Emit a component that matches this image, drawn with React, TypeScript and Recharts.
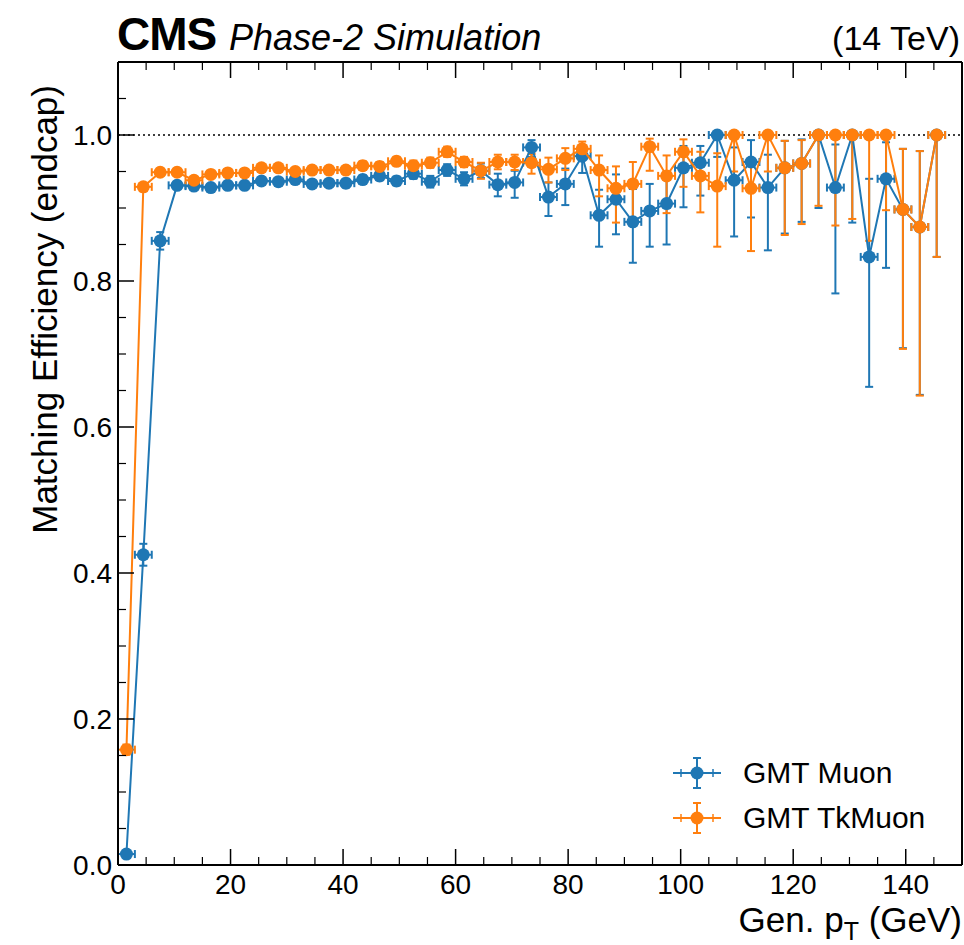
import React from 'react';
import { ComposedChart, Scatter, XAxis, YAxis, ErrorBar, ReferenceLine, Legend } from 'recharts';

// bin centres (GeV), 3 GeV wide bins
const ptBins = [
  1.5, 4.5, 7.5, 10.5, 13.5, 16.5, 19.5, 22.5, 25.5, 28.5, 31.5, 34.5, 37.5, 40.5, 43.5, 46.5, 49.5,
  52.5, 55.5, 58.5, 61.5, 64.5, 67.5, 70.5, 73.5, 76.5, 79.5, 82.5, 85.5, 88.5, 91.5, 94.5, 97.5,
  100.5, 103.5, 106.5, 109.5, 112.5, 115.5, 118.5, 121.5, 124.5, 127.5, 130.5, 133.5, 136.5, 139.5,
  142.5, 145.5,
];
const binHalfWidth = 1.5;

const muonEff = [
  0.015, 0.425, 0.855, 0.931, 0.930, 0.928, 0.931, 0.931, 0.937, 0.936, 0.939, 0.933, 0.934, 0.934, 0.939, 0.944, 0.937,
  0.947, 0.936, 0.952, 0.940, 0.951, 0.932, 0.935, 0.983, 0.915, 0.933, 0.971, 0.890, 0.912, 0.881, 0.896, 0.906,
  0.955, 0.962, 1.0, 0.938, 0.963, 0.928, 0.955, 0.961, 1.0, 0.928, 1.0, 0.833, 0.940, 0.898,
  0.874, 1.0,
];
const muonErrLo = [
  0.004, 0.015, 0.012, 0.005, 0.005, 0.005, 0.005, 0.005, 0.005, 0.005, 0.005, 0.005, 0.005, 0.006, 0.006, 0.006, 0.006,
  0.007, 0.008, 0.008, 0.009, 0.010, 0.016, 0.021, 0.013, 0.026, 0.029, 0.023, 0.043, 0.048, 0.056, 0.049, 0.056,
  0.054, 0.045, 0.030, 0.077, 0.076, 0.086, 0.090, 0.080, 0.100, 0.145, 0.120, 0.178, 0.122, 0.190,
  0.230, 0.167,
];
const muonErrHi = [
  0.005, 0.015, 0.012, 0.005, 0.005, 0.005, 0.005, 0.005, 0.005, 0.005, 0.005, 0.005, 0.005, 0.006, 0.006, 0.006, 0.006,
  0.007, 0.008, 0.008, 0.009, 0.010, 0.015, 0.016, 0.010, 0.020, 0.021, 0.015, 0.035, 0.034, 0.045, 0.037, 0.040,
  0.030, 0.023, 0.0, 0.045, 0.030, 0.045, 0.037, 0.033, 0.0, 0.059, 0.0, 0.107, 0.050, 0.083,
  0.104, 0.0,
];

const tkMuonEff = [
  0.158, 0.929, 0.949, 0.949, 0.938, 0.946, 0.948, 0.948, 0.955, 0.955, 0.950, 0.952, 0.952, 0.952, 0.958, 0.957, 0.964,
  0.958, 0.962, 0.977, 0.963, 0.951, 0.963, 0.963, 0.962, 0.953, 0.968, 0.981, 0.952, 0.927, 0.933, 0.984, 0.944,
  0.977, 0.944, 0.930, 1.0, 0.927, 1.0, 0.955, 0.961, 1.0, 1.0, 1.0, 1.0, 1.0, 0.898,
  0.874, 1.0,
];
const tkMuonErrLo = [
  0.007, 0.006, 0.005, 0.005, 0.005, 0.005, 0.005, 0.005, 0.005, 0.005, 0.005, 0.005, 0.005, 0.005, 0.006, 0.006, 0.006,
  0.007, 0.007, 0.007, 0.007, 0.011, 0.010, 0.011, 0.015, 0.018, 0.016, 0.011, 0.036, 0.047, 0.050, 0.033, 0.051,
  0.048, 0.050, 0.083, 0.050, 0.086, 0.050, 0.092, 0.083, 0.097, 0.124, 0.115, 0.145, 0.103, 0.191,
  0.231, 0.167,
];
const tkMuonErrHi = [
  0.007, 0.005, 0.005, 0.005, 0.005, 0.005, 0.005, 0.005, 0.005, 0.005, 0.005, 0.005, 0.005, 0.005, 0.006, 0.006, 0.006,
  0.007, 0.007, 0.007, 0.007, 0.011, 0.010, 0.010, 0.012, 0.016, 0.014, 0.010, 0.020, 0.030, 0.030, 0.011, 0.028,
  0.017, 0.033, 0.045, 0.0, 0.040, 0.0, 0.037, 0.032, 0.0, 0.0, 0.0, 0.0, 0.0, 0.083,
  0.104, 0.0,
];

const xTicks = [0, 20, 40, 60, 80, 100, 120, 140];
const xMinorTicks = [5, 10, 15, 25, 30, 35, 45, 50, 55, 65, 70, 75, 85, 90, 95, 105, 110, 115, 125, 130, 135, 145];
const yTicks = [0, 0.2, 0.4, 0.6, 0.8, 1.0];
const yMinorTicks = [0.05, 0.1, 0.15, 0.25, 0.3, 0.35, 0.45, 0.5, 0.55, 0.65, 0.7, 0.75, 0.85, 0.9, 0.95, 1.05];

const BLUE = '#1f77b4';
const ORANGE = '#ff7f0e';

if (typeof document !== 'undefined') {
  document.body.style.margin = '0';
  document.body.style.overflow = 'hidden';
}

const rows = ptBins.map((pt, i) => ({
  pt,
  ptErr: binHalfWidth,
  muon: muonEff[i],
  muonErr: [muonErrLo[i], muonErrHi[i]],
  tkMuon: tkMuonEff[i],
  tkMuonErr: [tkMuonErrLo[i], tkMuonErrHi[i]],
}));

const allX = [...xTicks, ...xMinorTicks].sort((a, b) => a - b);
const allY = [...yTicks, ...yMinorTicks].sort((a, b) => a - b);
const isMajor = (list: number[], v: number) => list.some((t) => Math.abs(t - v) < 1e-9);

const MAJOR = 16;
const MINOR = 8;
const frame = { stroke: '#000', strokeWidth: 2 };

// inward ticks drawn by hand, labels only on bottom/left
const tickFactory = (side: 'bottom' | 'top' | 'left' | 'right') => (props: any) => {
  const { x, y, payload } = props;
  const v = payload.value as number;
  const major = isMajor(side === 'bottom' || side === 'top' ? xTicks : yTicks, v);
  const len = major ? MAJOR : MINOR;
  const sw = major ? 1.5 : 1.2;
  if (side === 'bottom')
    return (
      <g>
        <line x1={x} x2={x} y1={y} y2={y - len} stroke="#000" strokeWidth={sw} />
        {major && (
          <text x={x} y={y + 29} textAnchor="middle" fontSize={28} fill="#000">
            {v}
          </text>
        )}
      </g>
    );
  if (side === 'top') return <line x1={x} x2={x} y1={y} y2={y + len} stroke="#000" strokeWidth={sw} />;
  if (side === 'right') return <line x1={x} x2={x - len} y1={y} y2={y} stroke="#000" strokeWidth={sw} />;
  return (
    <g>
      <line x1={x} x2={x + len} y1={y} y2={y} stroke="#000" strokeWidth={sw} />
      {major && (
        <text x={x - 6} y={y + 10} textAnchor="end" fontSize={28} fill="#000">
          {v.toFixed(1)}
        </text>
      )}
    </g>
  );
};

const dotShape = (color: string) => (props: any) => <circle cx={props.cx} cy={props.cy} r={6.5} fill={color} />;

const LegendIcon = ({ color }: { color: string }) => (
  <svg width={52} height={36} style={{ display: 'block' }}>
    <line x1={2} y1={18} x2={50} y2={18} stroke={color} strokeWidth={2} />
    <line x1={26} y1={3} x2={26} y2={33} stroke={color} strokeWidth={2} />
    <line x1={22} y1={3} x2={30} y2={3} stroke={color} strokeWidth={2} />
    <line x1={22} y1={33} x2={30} y2={33} stroke={color} strokeWidth={2} />
    <line x1={10} y1={14} x2={10} y2={22} stroke={color} strokeWidth={1.5} />
    <line x1={42} y1={14} x2={42} y2={22} stroke={color} strokeWidth={1.5} />
    <circle cx={26} cy={18} r={6.5} fill={color} />
  </svg>
);

const renderLegend = () => (
  <div>
    {[
      { label: 'GMT Muon', color: BLUE },
      { label: 'GMT TkMuon', color: ORANGE },
    ].map((item) => (
      <div key={item.label} style={{ display: 'flex', alignItems: 'center', height: 45 }}>
        <LegendIcon color={item.color} />
        <span style={{ fontSize: 30, marginLeft: 20, color: '#000', lineHeight: '36px' }}>{item.label}</span>
      </div>
    ))}
  </div>
);

export default function App() {
  return (
    <div
      style={{
        position: 'relative',
        width: 964,
        height: 945,
        background: '#fff',
        fontFamily: '"Liberation Sans", Arial, Helvetica, sans-serif',
      }}
    >
      <ComposedChart width={964} height={945} data={rows} margin={{ top: 61, right: 1, bottom: 79, left: 117 }}>
        <XAxis
          dataKey="pt"
          type="number"
          domain={[0, 150]}
          ticks={allX}
          interval={0}
          height={1}
          axisLine={frame}
          tickLine={false}
          tickSize={0}
          tickMargin={0}
          tick={tickFactory('bottom')}
          label={{
            content: () => (
              <text x={962} y={932} textAnchor="end" fontSize={35} fill="#000">
                Gen. p<tspan fontSize={25} dy={8}>T</tspan>
                <tspan dy={-8}> (GeV)</tspan>
              </text>
            ),
          }}
        />
        <XAxis
          xAxisId="top"
          orientation="top"
          dataKey="pt"
          type="number"
          domain={[0, 150]}
          ticks={allX}
          interval={0}
          height={1}
          axisLine={frame}
          tickLine={false}
          tickSize={0}
          tickMargin={0}
          tick={tickFactory('top')}
        />
        <YAxis
          type="number"
          domain={[0, 1.1]}
          ticks={allY}
          interval={0}
          width={1}
          axisLine={frame}
          tickLine={false}
          tickSize={0}
          tickMargin={0}
          tick={tickFactory('left')}
          label={{
            content: () => (
              <text x={57} y={85} transform="rotate(-90, 57, 85)" textAnchor="end" fontSize={35} fill="#000">
                Matching Efficiency (endcap)
              </text>
            ),
          }}
        />
        <YAxis
          yAxisId="right"
          orientation="right"
          type="number"
          domain={[0, 1.1]}
          ticks={allY}
          interval={0}
          width={1}
          axisLine={frame}
          tickLine={false}
          tickSize={0}
          tickMargin={0}
          tick={tickFactory('right')}
        />

        <ReferenceLine y={1} stroke="#000" strokeWidth={1.5} strokeDasharray="2 3" />

        <Scatter
          name="GMT Muon"
          dataKey="muon"
          fill={BLUE}
          line={{ stroke: BLUE, strokeWidth: 2 }}
          lineType="joint"
          shape={dotShape(BLUE)}
          isAnimationActive={false}
        >
          <ErrorBar dataKey="muonErr" direction="y" width={4} stroke={BLUE} strokeWidth={2} />
          <ErrorBar dataKey="ptErr" direction="x" width={4} stroke={BLUE} strokeWidth={2} />
        </Scatter>
        <Scatter
          name="GMT TkMuon"
          dataKey="tkMuon"
          fill={ORANGE}
          line={{ stroke: ORANGE, strokeWidth: 2 }}
          lineType="joint"
          shape={dotShape(ORANGE)}
          isAnimationActive={false}
        >
          <ErrorBar dataKey="tkMuonErr" direction="y" width={4} stroke={ORANGE} strokeWidth={2} />
          <ErrorBar dataKey="ptErr" direction="x" width={4} stroke={ORANGE} strokeWidth={2} />
        </Scatter>

        <Legend
          layout="vertical"
          align="center"
          verticalAlign="middle"
          content={renderLegend}
          wrapperStyle={{ left: 671, top: 750, width: 290 }}
        />
      </ComposedChart>

      <svg width={964} height={60} style={{ position: 'absolute', left: 0, top: 0, pointerEvents: 'none' }}>
        <text x={117} y={50} fontSize={46} fontWeight="bold" fill="#000" letterSpacing={-1}>
          CMS
        </text>
        <text x={229} y={50} fontSize={36} fontStyle="italic" fill="#000">
          Phase-2 Simulation
        </text>
        <text x={960} y={50} fontSize={34} textAnchor="end" fill="#000">
          (14 TeV)
        </text>
      </svg>
    </div>
  );
}
